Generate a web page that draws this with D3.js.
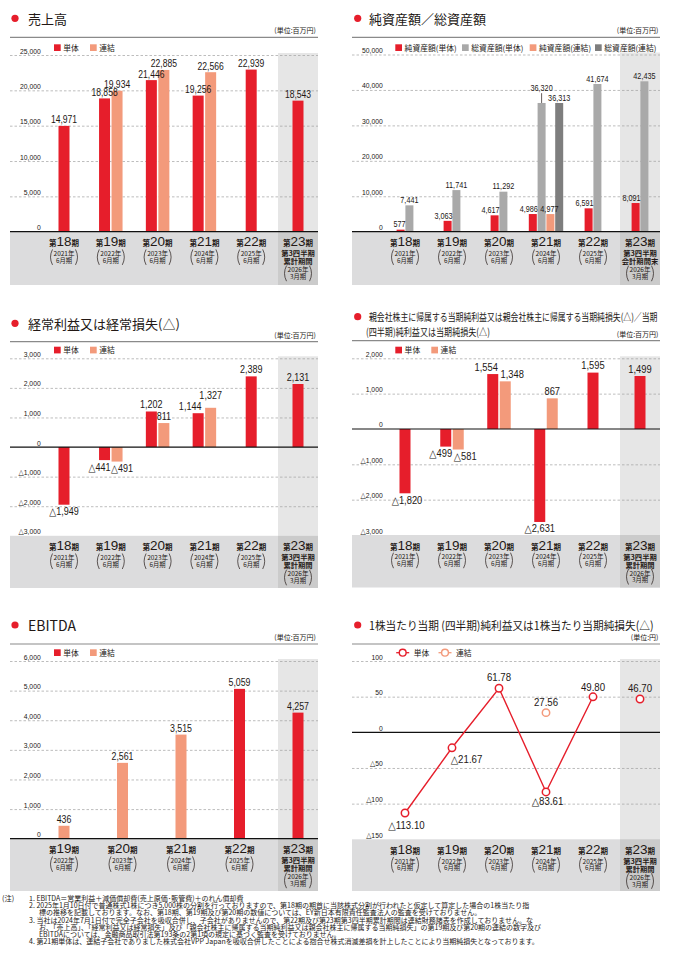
<!DOCTYPE html>
<html><head><meta charset="utf-8">
<script src="https://cdn.jsdelivr.net/npm/d3@7"></script>
<style>html,body{margin:0;padding:0;background:#fff;}svg{display:block;}</style>
</head><body>
<svg id="c" width="674" height="968"></svg>
<script>
// ---------- data ----------
const periods = ["18","19","20","21","22","23"];
const periodYears = ["2021年","2022年","2023年","2024年","2025年","2026年"];
const periodMonths = ["6月期","6月期","6月期","6月期","6月期","3月期"];
const quarterNote = ["第3四半期","累計期間"];
const balanceNote = ["第3四半期","会計期間末"];
const ebitdaPeriods = ["19","20","21","22","23"];
const ebitdaYears = ["2022年","2023年","2024年","2025年","2026年"];
const ebitdaMonths = ["6月期","6月期","6月期","6月期","3月期"];
const seriesNames = ["単体","連結"];
const bsNames = ["純資産額(単体)","総資産額(単体)","純資産額(連結)","総資産額(連結)"];

const salesSingle = [14971,18858,21446,19256,22939,18543];
const salesConsol = [null,19934,22885,22566,null,null];
const netAssetsSingle = [577,3063,4617,4986,6591,8091];
const totalAssetsSingle = [7441,11741,11292,36320,41674,42435];
const netAssetsConsol = [null,null,null,4977,null,null];
const totalAssetsConsol = [null,null,null,36313,null,null];
const ordinarySingle = [-1949,-441,1202,1144,2389,2131];
const ordinaryConsol = [null,-491,811,1327,null,null];
const netIncomeSingle = [-1820,-499,1554,-2631,1595,1499];
const netIncomeConsol = [null,-581,1348,867,null,null];
const ebitdaSingle = [null,null,null,5059,4257];
const ebitdaConsol = [436,2561,3515,null,null];
const epsSingle = [-113.10,-21.67,61.78,-83.61,49.80,46.70];
const epsConsol = [null,null,null,27.56,null,null];

const salesTicks = [0,5000,10000,15000,20000,25000];
const assetTicks = [0,10000,20000,30000,40000,50000];
const ordinaryTicks = [-3000,-2000,-1000,0,1000,2000,3000];
const netIncomeTicks = [-3000,-2000,-1000,0,1000,2000];
const ebitdaTicks = [0,1000,2000,3000,4000,5000,6000];
const epsTicks = [-150,-100,-50,0,50,100];

const notes = [
  "1. EBITDA＝営業利益＋減価償却費(売上原価･販管費)＋のれん償却費",
  "2. 2025年1月10日付で普通株式1株につき5,000株の分割を行っておりますので、第18期の期首に当該株式分割が行われたと仮定して算定した場合の1株当たり指",
  "標の推移を記載しております。なお、第18期、第19期及び第20期の数値については、EY新日本有限責任監査法人の監査を受けておりません。",
  "3. 当社は2024年7月1日付で完全子会社を吸収合併し、子会社がありませんので、第22期及び第23期第3四半期累計期間は連結財務諸表を作成しておりません。な",
  "お、「売上高」、「経常利益又は経常損失」及び「親会社株主に帰属する当期純利益又は親会社株主に帰属する当期純損失」の第19期及び第20期の連結の数字及び",
  "EBITDAについては、金融商品取引法第193条の2第1項の規定に基づく監査を受けておりません。",
  "4. 第21期単体は、連結子会社でありました株式会社VPP Japanを吸収合併したことによる抱合せ株式消滅差損を計上したことにより当期純損失となっております。"
];

// ---------- style / layout ----------
const RED="#e61e2b", SALMON="#f39a7b", LG="#a9a9a9", DG="#7e7e7e", TXT="#231815";
const JP="'Noto Sans CJK JP','Noto Sans',sans-serif";
const NUM="'Liberation Sans','DejaVu Sans',sans-serif";
const fmtInt = v => (v<0?"△":"") + d3.format(",")(Math.abs(v));
const fmtEps = v => (v<0?"△":"") + d3.format(".2f")(Math.abs(v));
const svg = d3.select("#c");

const LEFT = {L:10, R:318, tickX:40.7, xr:[64,298], hl:[278,318], dotX:15, titleX:28, unitX:316, legX:54};
const RIGHT = {L:352, R:660, tickX:382.7, xr:[405,640], hl:[620,660], dotX:357.7, titleX:369, unitX:658.5, legX:395.3};

function numText(g,x,y,str,size,sx,anchor){
  return g.append("text").attr("transform",`translate(${x},${y}) scale(${sx},1)`)
    .attr("text-anchor",anchor||"middle").attr("font-family",NUM).attr("font-size",size)
    .attr("fill",TXT).text(str);
}
function fitText(t,x,y,len){
  const nat=t.node().getComputedTextLength();
  const sx=nat>0? Math.min(1,len/nat):1;
  t.attr("x",0).attr("y",0).attr("transform",`translate(${x},${y}) scale(${sx},1)`);
  return t;
}

function frame(S,o){
  const g = svg.append("g");
  g.append("circle").attr("cx",S.dotX).attr("cy",o.dotY).attr("r",3.6).attr("fill",RED);
  o.title.forEach(t=>{
    const tx=g.append("text").attr("font-family",JP).attr("font-size",t.size).attr("fill",TXT).text(t.text);
    const x0=t.x!=null?t.x:S.titleX;
    if(t.len) fitText(tx,x0,t.y,t.len); else tx.attr("x",x0).attr("y",t.y);
  });
  g.append("text").attr("x",S.unitX).attr("y",o.headerY-4).attr("text-anchor","end")
    .attr("font-family",JP).attr("font-size",7).attr("fill",TXT).text(o.unit);
  g.append("line").attr("x1",S.L).attr("x2",S.R).attr("y1",o.headerY).attr("y2",o.headerY)
    .attr("stroke","#8a8a8a").attr("stroke-width",1.2);

  const y = d3.scaleLinear().domain(o.yDomain).range(o.yRange);
  const x = d3.scalePoint().domain(o.cats).range(S.xr);
  const topY = y(o.yDomain[1]);
  g.append("rect").attr("x",S.hl[0]).attr("y",topY-2).attr("width",S.hl[1]-S.hl[0])
    .attr("height",o.bandTop-topY+2).attr("fill","#e6e6e6");
  g.append("rect").attr("x",S.L).attr("y",o.bandTop).attr("width",S.R-S.L)
    .attr("height",o.bandBottom-o.bandTop).attr("fill","#dcdcdd");
  g.append("rect").attr("x",S.hl[0]).attr("y",o.bandTop).attr("width",S.hl[1]-S.hl[0])
    .attr("height",o.bandBottom-o.bandTop).attr("fill","#cbcbcb");
  const grid = g.append("g").attr("transform",`translate(${S.L},0)`)
    .call(d3.axisLeft(y).tickValues(o.ticks.filter(t=>t!==0 && Math.abs(y(t)-o.bandTop)>0.5))
      .tickSize(-(S.R-S.L)).tickFormat(""));
  grid.select(".domain").remove();
  grid.selectAll("line").attr("stroke","#a0a0a0").attr("stroke-width",0.7).attr("stroke-dasharray","2.5,2");
  const ax = g.append("g").attr("transform",`translate(${S.tickX},0)`)
    .call(d3.axisLeft(y).tickValues(o.ticks).tickSize(0).tickPadding(0).tickFormat(fmtInt));
  ax.select(".domain").remove();
  ax.selectAll("text").attr("x",0).attr("dy",null).attr("y",-2).attr("transform","scale(0.85,1)")
    .attr("font-family",NUM).attr("font-size",8).attr("fill",TXT);
  o.legend.forEach(it=>{
    const lx=S.legX+it.dx;
    if(it.type==="line"){
      g.append("line").attr("x1",lx-6.5).attr("x2",lx+6.5).attr("y1",o.legY).attr("y2",o.legY)
        .attr("stroke",it.color).attr("stroke-width",1.3);
      g.append("circle").attr("cx",lx).attr("cy",o.legY).attr("r",3.4).attr("fill","#fff")
        .attr("stroke",it.color).attr("stroke-width",1.4);
      g.append("text").attr("x",lx+11).attr("y",o.legY+3).attr("font-family",JP).attr("font-size",7.8)
        .attr("fill",TXT).text(it.label);
    } else {
      g.append("rect").attr("x",lx).attr("y",o.legY).attr("width",6.7).attr("height",6.7).attr("fill",it.color);
      g.append("text").attr("x",lx+9.3).attr("y",o.legY+6.6).attr("font-family",JP).attr("font-size",7.8)
        .attr("fill",TXT).text(it.label);
    }
  });
  const bt=o.bandTop;
  o.cats.forEach((c,i)=>{
    const cx=x(c);
    const t=g.append("text").attr("text-anchor","middle").attr("fill",TXT).attr("font-family",JP);
    t.append("tspan").attr("x",cx).attr("y",bt+14.5).attr("font-weight",700).attr("font-size",7.5).text("第");
    t.append("tspan").attr("font-family",NUM).attr("font-size",13.5).text(c);
    t.append("tspan").attr("font-weight",700).attr("font-size",7.5).text("期");
    let yb=bt+24.2;
    if(i===o.cats.length-1){
      o.note.forEach((n,k)=>{
        t.append("tspan").attr("x",cx).attr("y",bt+24.5+k*8).attr("font-weight",700)
          .attr("font-size",7.3).text(n);
      });
      yb=bt+40.5;
    }
    t.append("tspan").attr("x",cx).attr("y",yb).attr("font-size",6.5).text(o.years[i]);
    t.append("tspan").attr("x",cx).attr("y",yb+6.8).attr("font-size",6.3).text(o.months[i]);
    const y1=yb-6.5, y2=yb+9, ym=(y1+y2)/2;
    g.append("path").attr("d",`M${cx-11.5},${y1}Q${cx-15.5},${ym} ${cx-11.5},${y2}`)
      .attr("fill","none").attr("stroke",TXT).attr("stroke-width",0.7);
    g.append("path").attr("d",`M${cx+11.5},${y1}Q${cx+15.5},${ym} ${cx+11.5},${y2}`)
      .attr("fill","none").attr("stroke",TXT).attr("stroke-width",0.7);
  });
  return {g,x,y,S,o};
}

function bars(F,series,bw,gap,lab){
  const {g,x,y,S,o}=F;
  const items=[];
  o.cats.forEach((c,i)=>{
    const present=series.filter(s=>s.values[i]!=null);
    const n=present.length, total=n*bw+(n-1)*gap, start=x(c)-total/2;
    present.forEach((s,j)=>items.push({s,i,v:s.values[i],bx:start+j*(bw+gap)}));
  });
  g.append("g").selectAll("rect").data(items).join("rect")
    .attr("x",d=>d.bx).attr("y",d=>Math.min(y(0),y(d.v))).attr("width",bw)
    .attr("height",d=>Math.abs(y(d.v)-y(0))).attr("fill",d=>d.s.color);
  g.append("line").attr("x1",S.L).attr("x2",S.R).attr("y1",y(0)).attr("y2",y(0))
    .attr("stroke","#111").attr("stroke-width",1.2);
  items.forEach(d=>{
    const nd=(lab.nudge||{})[d.s.key+d.i]||{};
    let lx=d.bx+bw/2, anchor="middle";
    if(d.s.labelEnd){lx=d.bx+bw+1; anchor="end";}
    lx+=nd.dx||0;
    let ly=(d.v>=0? y(d.v)-lab.above : y(d.v)+lab.below)+(nd.dy||0);
    numText(g,lx,ly,fmtInt(d.v),lab.size,lab.sx,anchor);
    if(nd.leader) g.append("line").attr("x1",d.bx+bw/2).attr("x2",d.bx+bw/2).attr("y1",ly+2.5)
      .attr("y2",y(d.v)).attr("stroke",TXT).attr("stroke-width",0.7);
  });
}

const leg2=[{label:seriesNames[0],color:RED,dx:0},{label:seriesNames[1],color:SALMON,dx:36}];

// Panel 1
const F1=frame(LEFT,{title:[{text:"売上高",y:23.5,size:13}],dotY:18.3,headerY:37.3,unit:"(単位:百万円)",
  yDomain:[0,25000],yRange:[231.7,55],ticks:salesTicks,bandTop:231.7,bandBottom:285,legY:44.3,legend:leg2,
  cats:periods,years:periodYears,months:periodMonths,note:quarterNote});
bars(F1,[{key:"s",values:salesSingle,color:RED},{key:"c",values:salesConsol,color:SALMON}],11,1.5,
  {size:11,sx:0.78,above:2.5,below:10});

// Panel 2
const F2=frame(RIGHT,{title:[{text:"純資産額／総資産額",y:23.5,size:13}],dotY:18.3,headerY:37.3,unit:"(単位:百万円)",
  yDomain:[0,50000],yRange:[231.7,54.5],ticks:assetTicks,bandTop:231.7,bandBottom:285,legY:44.3,
  legend:[{label:bsNames[0],color:RED,dx:0},{label:bsNames[1],color:LG,dx:66.7},{label:bsNames[2],color:SALMON,dx:134.4},{label:bsNames[3],color:DG,dx:199.7}],
  cats:periods,years:periodYears,months:periodMonths,note:balanceNote});
bars(F2,[{key:"ns",values:netAssetsSingle,color:RED,labelEnd:true},{key:"ts",values:totalAssetsSingle,color:LG},
  {key:"nc",values:netAssetsConsol,color:SALMON},{key:"tc",values:totalAssetsConsol,color:DG}],8,0.8,
  {size:9.8,sx:0.74,above:2.3,below:10,nudge:{ts3:{dy:-10,leader:true},nc3:{dx:-1}}});

// Panel 3
const F3=frame(LEFT,{title:[{text:"経常利益又は経常損失(△)",y:328.5,size:13,len:153}],dotY:323.3,headerY:341.7,unit:"(単位:百万円)",
  yDomain:[-3000,3000],yRange:[535.8,358.3],ticks:ordinaryTicks,bandTop:535.8,bandBottom:588,legY:346.7,legend:leg2,
  cats:periods,years:periodYears,months:periodMonths,note:quarterNote});
bars(F3,[{key:"s",values:ordinarySingle,color:RED},{key:"c",values:ordinaryConsol,color:SALMON}],11,1.5,
  {size:11,sx:0.82,above:3.5,below:10.5,nudge:{s3:{dx:-8},c3:{dy:-5},s1:{dx:-5},c1:{dx:5}}});

// Panel 4
const F4=frame(RIGHT,{title:[{text:"親会社株主に帰属する当期純利益又は親会社株主に帰属する当期純損失(△)／当期",y:321,size:10.5,len:289},
    {text:"(四半期)純利益又は当期純損失(△)",x:366,y:336,size:10.5,len:124}],dotY:316.7,headerY:340.7,unit:"(単位:百万円)",
  yDomain:[-3000,2000],yRange:[535,358.3],ticks:netIncomeTicks,bandTop:535,bandBottom:587.5,legY:346.7,legend:leg2,
  cats:periods,years:periodYears,months:periodMonths,note:quarterNote});
bars(F4,[{key:"s",values:netIncomeSingle,color:RED},{key:"c",values:netIncomeConsol,color:SALMON}],11,1.5,
  {size:11,sx:0.85,above:3.3,below:10.5,nudge:{s2:{dx:-6.5},c2:{dx:7},s1:{dx:-5},c1:{dx:7},s0:{dx:2}}});

// Panel 5
const F5=frame(LEFT,{title:[{text:"EBITDA",y:630.7,size:14}],dotY:625,headerY:644,unit:"(単位:百万円)",
  yDomain:[0,6000],yRange:[838.7,661],ticks:ebitdaTicks,bandTop:838.7,bandBottom:891,legY:649.3,legend:leg2,
  cats:ebitdaPeriods,years:ebitdaYears,months:ebitdaMonths,note:quarterNote});
bars(F5,[{key:"s",values:ebitdaSingle,color:RED},{key:"c",values:ebitdaConsol,color:SALMON}],11,1.5,
  {size:11,sx:0.8,above:2.5,below:10});

// Panel 6
const F6=frame(RIGHT,{title:[{text:"1株当たり当期 (四半期)純利益又は1株当たり当期純損失(△)",y:630,size:11.5,len:285}],dotY:625,headerY:644,unit:"(単位:円)",
  yDomain:[-150,100],yRange:[839.3,661],ticks:epsTicks,bandTop:839.3,bandBottom:891,legY:652.7,
  legend:[{label:seriesNames[0],color:RED,dx:7.4,type:"line"},{label:seriesNames[1],color:SALMON,dx:49.7,type:"line"}],
  cats:periods,years:periodYears,months:periodMonths,note:quarterNote});
(function(){
  const {g,x,y,S}=F6;
  g.append("line").attr("x1",S.L).attr("x2",S.R).attr("y1",y(0)).attr("y2",y(0)).attr("stroke","#111").attr("stroke-width",1.2);
  const annual=periods.slice(0,5);
  const line=d3.line().x((d,i)=>x(annual[i])).y(d=>y(d));
  g.append("path").attr("d",line(epsSingle.slice(0,5))).attr("fill","none").attr("stroke",RED).attr("stroke-width",1.4);
  const pts=[];
  epsSingle.forEach((v,i)=>{ if(v!=null) pts.push({v,i,c:RED,k:"s"}); });
  epsConsol.forEach((v,i)=>{ if(v!=null) pts.push({v,i,c:SALMON,k:"c"}); });
  g.append("g").selectAll("circle").data(pts).join("circle")
    .attr("cx",d=>x(periods[d.i])).attr("cy",d=>y(d.v)).attr("r",3.7)
    .attr("fill","#fff").attr("stroke",d=>d.c).attr("stroke-width",1.5);
  const nudge={s1:{dx:14.5,dy:0.5},s0:{dx:1.5,dy:1.5},s3:{dx:1.5,dy:-1.5},s4:{dy:1}};
  pts.forEach(d=>{
    const nd=nudge[d.k+d.i]||{};
    const px=x(periods[d.i])+(nd.dx||0);
    const py=(d.v>=0? y(d.v)-7 : y(d.v)+14.5)+(nd.dy||0);
    numText(g,px,py,fmtEps(d.v),11,0.88,"middle");
  });
})();

// footnotes
(function(){
  const g=svg.append("g").attr("font-family",JP).attr("font-size",7).attr("fill",TXT);
  const spec=[[29,900.8,303],[29,908.2,659],[39,915.4,544],[29,922.6,659],[39,929.8,659],[39,937,420],[29,944.2,659]];
  g.append("text").attr("x",2).attr("y",900.8).attr("font-size",7.3).text("(注)");
  notes.forEach((t,i)=>{
    const [x0,yy,x1]=spec[i];
    fitText(g.append("text").text(t),x0,yy,x1-x0);
  });
})();
</script>
</body></html>
